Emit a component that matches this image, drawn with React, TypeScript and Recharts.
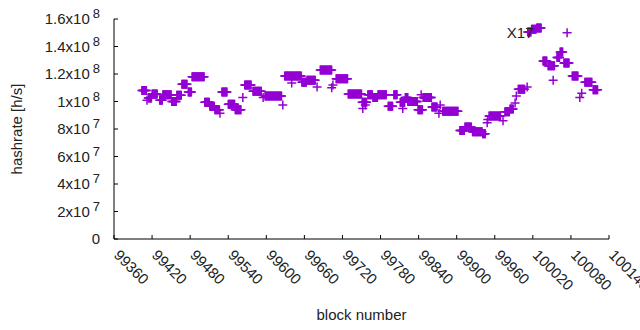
import { ScatterChart, Scatter, XAxis, YAxis, ReferenceDot } from 'recharts'

// runs of blocks sharing the same hashrate (MH/s)
const runStart = [
  99404, 99412, 99414, 99420, 99432, 99437, 99451, 99459, 99467, 99477,
  99483, 99503, 99511, 99519, 99527, 99530, 99540, 99551, 99563, 99566,
  99579, 99595, 99598, 99626, 99629, 99640, 99656, 99664, 99680, 99685,
  99705, 99703, 99710, 99729, 99751, 99752, 99756, 99760, 99768, 99776,
  99792, 99801, 99811, 99815, 99819, 99823, 99839, 99844, 99847, 99861,
  99872, 99874, 99878, 99905, 99913, 99925, 99941, 99948, 99949, 99951,
  99973, 99976, 99984, 99992, 99994, 99997, 100011, 100012, 100018, 100026,
  100036, 100044, 100052, 100058, 100063, 100074, 100069, 100082, 100094, 100097,
  100102, 100115,
]
const runLength = [
  8, 1, 6, 9, 5, 14, 8, 8, 9, 6,
  20, 8, 8, 8, 1, 9, 11, 10, 1, 11,
  14, 1, 27, 1, 27, 1, 8, 14, 1, 19,
  1, 1, 19, 22, 8, 1, 1, 8, 8, 14,
  8, 6, 8, 1, 5, 16, 8, 1, 14, 9,
  1, 1, 25, 8, 11, 16, 5, 1, 1, 19,
  1, 8, 6, 1, 1, 11, 1, 6, 8, 8,
  7, 11, 1, 5, 5, 1, 9, 10, 1, 1,
  12, 8,
]
const runRate = [
  108, 101, 102.5, 105.5, 101, 105, 100, 104.5, 112.5, 107,
  118, 99.5, 96.5, 94, 91.5, 107, 98, 94, 103, 112,
  107.5, 103, 104, 97.5, 118.5, 113.5, 114, 115.5, 110.5, 123,
  112, 110, 116.5, 105.5, 99.5, 95, 97.5, 105, 103, 105,
  96.5, 105, 99.5, 95, 103, 100, 94, 105, 103, 96,
  91.5, 97.5, 93, 79, 81.5, 78, 76.5, 84.5, 87, 89.5,
  86, 92.5, 94.5, 99, 104, 109, 110.5, 150.5, 152.5, 153.5,
  129.5, 126, 115.5, 132, 136, 150, 128, 118.5, 103, 106,
  114, 108.5,
]

const blockTicks = [
  99360, 99420, 99480, 99540, 99600, 99660, 99720, 99780, 99840, 99900,
  99960, 100020, 100080, 100140,
]
const rateTicks = [0, 2e7, 4e7, 6e7, 8e7, 1e8, 1.2e8, 1.4e8, 1.6e8]

const points = runStart.flatMap((s, i) =>
  Array.from({ length: runLength[i] }, (_, k) => ({ block: s + k, hashrate: runRate[i] * 1e6 }))
)

const FONT = '"Liberation Sans", Arial, sans-serif'
const COLOR = '#9400D3'
const TICK = 4

const Plus = (props: any) => {
  const { cx, cy } = props
  return (
    <path
      d={`M${cx - 4.5},${cy}H${cx + 4.5}M${cx},${cy - 4.5}V${cy + 4.5}`}
      stroke={COLOR}
      strokeWidth={1.5}
      fill='none'
    />
  )
}

const LeftTick = (props: any) => {
  const { x, y, payload } = props
  const v = payload.value
  let mant = '0'
  let exp = ''
  if (v > 0) {
    const e = Math.floor(Math.log10(v) + 1e-9)
    mant = String(Math.round((v / Math.pow(10, e)) * 10) / 10) + 'x10'
    exp = String(e)
  }
  return (
    <g>
      <line x1={x} y1={y} x2={x + TICK} y2={y} stroke='#000' />
      <text x={100} y={y + 5} textAnchor='end' fontFamily={FONT} fontSize={15} fill='#222'>
        <tspan>{mant}</tspan>
        {exp && (
          <tspan dx={3} dy={-6} fontSize={13}>
            {exp}
          </tspan>
        )}
      </text>
    </g>
  )
}

const RightTick = (props: any) => {
  const { x, y } = props
  return <line x1={x - TICK} y1={y} x2={x} y2={y} stroke='#000' />
}

const BottomTick = (props: any) => {
  const { x, y, payload } = props
  const tx = x - 1
  const ty = y + 17
  return (
    <g>
      <line x1={x} y1={y} x2={x} y2={y - TICK} stroke='#000' />
      <text
        x={tx}
        y={ty}
        transform={`rotate(45, ${tx}, ${ty})`}
        textAnchor='start'
        fontFamily={FONT}
        fontSize={15}
        fill='#222'
      >
        {payload.value}
      </text>
    </g>
  )
}

const TopTick = (props: any) => {
  const { x, y } = props
  return <line x1={x} y1={y} x2={x} y2={y + TICK} stroke='#000' />
}

const XTitle = (props: any) => {
  const vb = props.viewBox
  return (
    <text x={vb.x + vb.width / 2} y={320} textAnchor='middle' fontFamily={FONT} fontSize={15} fill='#222'>
      block number
    </text>
  )
}

const YTitle = (props: any) => {
  const vb = props.viewBox
  const cy = vb.y + vb.height / 2
  return (
    <text
      x={22}
      y={cy}
      transform={`rotate(-90, 22, ${cy})`}
      textAnchor='middle'
      fontFamily={FONT}
      fontSize={15}
      fill='#222'
    >
      hashrate [h/s]
    </text>
  )
}

const App = () => {
  return (
    <div style={{ position: 'absolute', left: 0, top: 0, background: '#fff' }}>
      <ScatterChart width={640} height={330} margin={{ top: 19, right: 31, bottom: 0, left: 0 }}>
        <XAxis
          type='number'
          dataKey='block'
          domain={[99360, 100140]}
          ticks={blockTicks}
          interval={0}
          height={91}
          tickSize={0}
          tickMargin={0}
          tick={<BottomTick />}
          axisLine={{ stroke: '#000' }}
          label={<XTitle />}
        />
        <XAxis
          xAxisId='top'
          orientation='top'
          type='number'
          domain={[99360, 100140]}
          ticks={blockTicks}
          interval={0}
          height={0}
          tickSize={0}
          tickMargin={0}
          tick={<TopTick />}
          axisLine={{ stroke: '#000' }}
        />
        <YAxis
          type='number'
          dataKey='hashrate'
          domain={[0, 1.6e8]}
          ticks={rateTicks}
          interval={0}
          width={114}
          tickSize={0}
          tickMargin={0}
          tick={<LeftTick />}
          axisLine={{ stroke: '#000' }}
          label={<YTitle />}
        />
        <YAxis
          yAxisId='right'
          orientation='right'
          type='number'
          domain={[0, 1.6e8]}
          ticks={rateTicks}
          interval={0}
          width={0}
          tickSize={0}
          tickMargin={0}
          tick={<RightTick />}
          axisLine={{ stroke: '#000' }}
        />
        <ReferenceDot
          x={100000}
          y={1.5e8}
          r={0}
          stroke='none'
          label={{ value: 'X17', position: 'center', fontFamily: FONT, fontSize: 15, fill: '#222' }}
        />
        <Scatter data={points} shape={<Plus />} isAnimationActive={false} />
      </ScatterChart>
    </div>
  )
}

export default App
